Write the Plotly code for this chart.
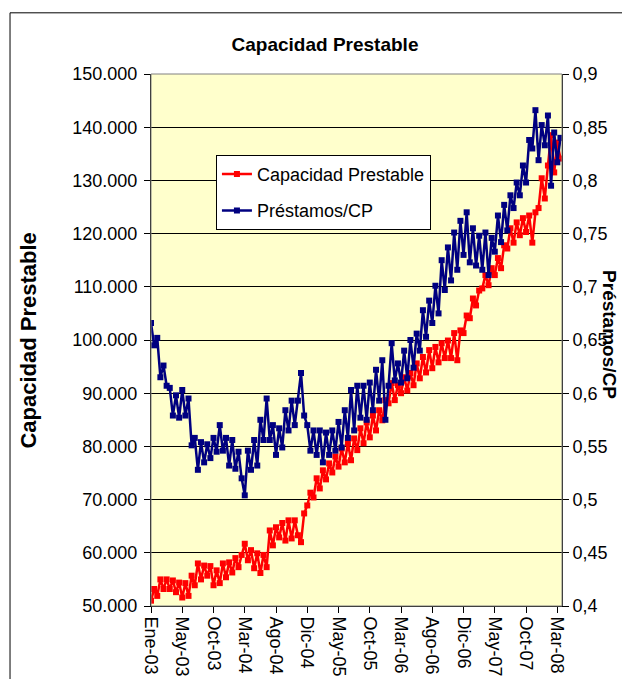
import plotly.graph_objects as go

# business-day index, one value every 10 days (Ene-03 .. Mar-08)
dias = list(range(0, 1320, 10))

capacidad_prestable = [
    51.0, 53.2, 51.9, 55.0, 53.2, 55.0, 53.2, 54.8, 52.6, 54.4,
    51.6, 54.3, 51.9, 55.7, 53.9, 58.0, 55.0, 57.6, 55.7, 57.5,
    53.9, 56.7, 54.3, 58.0, 55.4, 58.2, 56.3, 59.0, 57.3, 59.6,
    61.7, 58.6, 60.5, 57.1, 59.9, 56.2, 59.6, 57.3, 64.2, 61.4,
    64.8, 62.9, 65.6, 62.3, 66.1, 62.7, 66.1, 63.3, 62.0, 67.4,
    68.9, 71.3, 70.4, 74.0, 72.1, 75.5, 73.8, 76.8, 75.1, 78.1,
    76.2, 79.6, 77.0, 80.6, 77.4, 81.5, 79.3, 83.4, 80.6, 84.5,
    81.7, 85.8, 83.0, 86.8, 84.9, 88.7, 88.1, 91.9, 88.7, 91.5,
    90.0, 93.0, 90.5, 93.8, 91.5, 95.6, 92.8, 96.8, 93.9, 98.1,
    94.7, 98.7, 95.8, 99.4, 96.6, 99.9, 96.6, 101.3, 96.2, 101.8,
    101.3, 104.6, 104.1, 107.8, 106.5, 109.3, 109.7, 112.2, 110.3, 113.5,
    112.2, 115.4, 113.5, 117.8, 117.2, 121.0, 118.3, 122.1, 119.7, 122.9,
    120.3, 123.4, 118.3, 124.0, 124.8, 130.4, 126.6, 132.8, 138.5, 131.5,
    137.1, 134.1,
]

prestamos_cp = [
    0.666, 0.645, 0.652, 0.615, 0.626, 0.607, 0.605, 0.579, 0.598, 0.577,
    0.603, 0.579, 0.595, 0.551, 0.558, 0.528, 0.554, 0.535, 0.552, 0.539,
    0.558, 0.545, 0.570, 0.546, 0.558, 0.532, 0.556, 0.529, 0.545, 0.520,
    0.504, 0.546, 0.528, 0.556, 0.532, 0.575, 0.556, 0.595, 0.556, 0.570,
    0.542, 0.567, 0.549, 0.584, 0.565, 0.593, 0.570, 0.593, 0.619, 0.579,
    0.570, 0.546, 0.565, 0.542, 0.565, 0.535, 0.563, 0.542, 0.565, 0.546,
    0.573, 0.549, 0.584, 0.558, 0.603, 0.565, 0.607, 0.577, 0.607, 0.575,
    0.610, 0.584, 0.622, 0.593, 0.631, 0.575, 0.607, 0.647, 0.612, 0.628,
    0.610, 0.640, 0.614, 0.650, 0.624, 0.656, 0.640, 0.678, 0.653, 0.687,
    0.666, 0.701, 0.675, 0.725, 0.697, 0.737, 0.706, 0.751, 0.716, 0.762,
    0.730, 0.770, 0.723, 0.755, 0.720, 0.748, 0.716, 0.751, 0.711, 0.746,
    0.733, 0.767, 0.742, 0.777, 0.753, 0.786, 0.774, 0.798, 0.786, 0.814,
    0.798, 0.838, 0.830, 0.866, 0.819, 0.852, 0.833, 0.861, 0.795, 0.845,
    0.817, 0.840,
]

meses_vals = list(range(0, 1400, 100))
meses_text = ["Ene-03", "May-03", "Oct-03", "Mar-04", "Ago-04", "Dic-04", "May-05",
              "Oct-05", "Mar-06", "Ago-06", "Dic-06", "May-07", "Oct-07", "Mar-08"]

cp_vals = list(range(50, 160, 10))
cp_text = ["50.000", "60.000", "70.000", "80.000", "90.000", "100.000",
           "110.000", "120.000", "130.000", "140.000", "150.000"]

ratio_vals = [0.4, 0.45, 0.5, 0.55, 0.6, 0.65, 0.7, 0.75, 0.8, 0.85, 0.9]
ratio_text = ["0,4", "0,45", "0,5", "0,55", "0,6", "0,65", "0,7", "0,75", "0,8", "0,85", "0,9"]

FONT = "Liberation Sans, Arial, sans-serif"

fig = go.Figure()
fig.add_trace(go.Scatter(
    x=dias, y=capacidad_prestable, name="Capacidad Prestable",
    mode="lines+markers", legendgroup="cp",
    line={"color": "#FF0000", "width": 2.5},
    marker={"color": "#FF0000", "size": 6, "symbol": "square"},
    yaxis="y"
))
fig.add_trace(go.Scatter(
    x=dias, y=prestamos_cp, name="Préstamos/CP",
    mode="lines+markers", legendgroup="ratio",
    line={"color": "#000080", "width": 2.5},
    marker={"color": "#000080", "size": 6, "symbol": "square"},
    yaxis="y2"
))

# page body keeps an 8px margin; keep the figure inside the window (no scrollbar)
fig.update_layout(
    width=622, height=671,
    margin={"l": 143, "r": 68, "t": 66, "b": 73},
    paper_bgcolor="white",
    plot_bgcolor="#FFFFCC",
    font={"family": FONT, "size": 18, "color": "black"},
    title={
        "text": "<b>Capacidad Prestable</b>",
        "x": (325 - 8) / 622, "xanchor": "center",
        "y": 1 - 36 / 671, "yanchor": "middle",
        "font": {"size": 19, "family": FONT}
    },
    xaxis={
        "range": [0, 1315],
        "tickvals": meses_vals, "ticktext": meses_text,
        "tickangle": 90,
        "ticks": "outside", "ticklen": 6, "tickcolor": "black",
        "showline": True, "linecolor": "black", "linewidth": 1,
        "showgrid": False, "zeroline": False,
        "automargin": False,
        "tickfont": {"size": 18}
    },
    yaxis={
        "range": [50, 150],
        "tickvals": cp_vals, "ticktext": cp_text,
        "ticks": "outside", "ticklen": 6, "tickcolor": "black",
        "ticklabelstandoff": 3,
        "showline": True, "linecolor": "black", "linewidth": 1,
        "showgrid": True, "gridcolor": "black", "gridwidth": 1,
        "zeroline": False, "automargin": False,
        "tickfont": {"size": 18}
    },
    yaxis2={
        "range": [0.4, 0.9],
        "overlaying": "y", "side": "right",
        "tickvals": ratio_vals, "ticktext": ratio_text,
        "ticks": "outside", "ticklen": 6, "tickcolor": "black",
        "showline": True, "linecolor": "black", "linewidth": 1,
        "showgrid": False, "zeroline": False, "automargin": False,
        "tickfont": {"size": 18}
    },
    legend={
        "x": 0.158, "y": 0.848, "xanchor": "left", "yanchor": "top",
        "bgcolor": "white", "bordercolor": "black", "borderwidth": 1,
        "font": {"size": 18}, "tracegroupgap": 10
    },
    annotations=[
        {"text": "<b>Capacidad Prestable</b>", "xref": "paper", "yref": "paper",
         "x": -0.298, "y": 0.498, "xanchor": "center", "yanchor": "middle",
         "showarrow": False, "textangle": -90, "font": {"size": 22}},
        {"text": "<b>Préstamos/CP</b>", "xref": "paper", "yref": "paper",
         "x": 1.117, "y": 0.511, "xanchor": "center", "yanchor": "middle",
         "showarrow": False, "textangle": 90, "font": {"size": 19}},
    ],
    shapes=[
        {"type": "rect", "xref": "paper", "yref": "paper",
         "x0": 0, "x1": 1, "y0": 0, "y1": 1,
         "line": {"color": "#808080", "width": 1}},
        {"type": "rect", "xref": "paper", "yref": "paper",
         "x0": -0.343, "x1": 1.2, "y0": -0.2, "y1": 1.115,
         "line": {"color": "black", "width": 1}},
    ],
)

fig.write_html("out.html")
